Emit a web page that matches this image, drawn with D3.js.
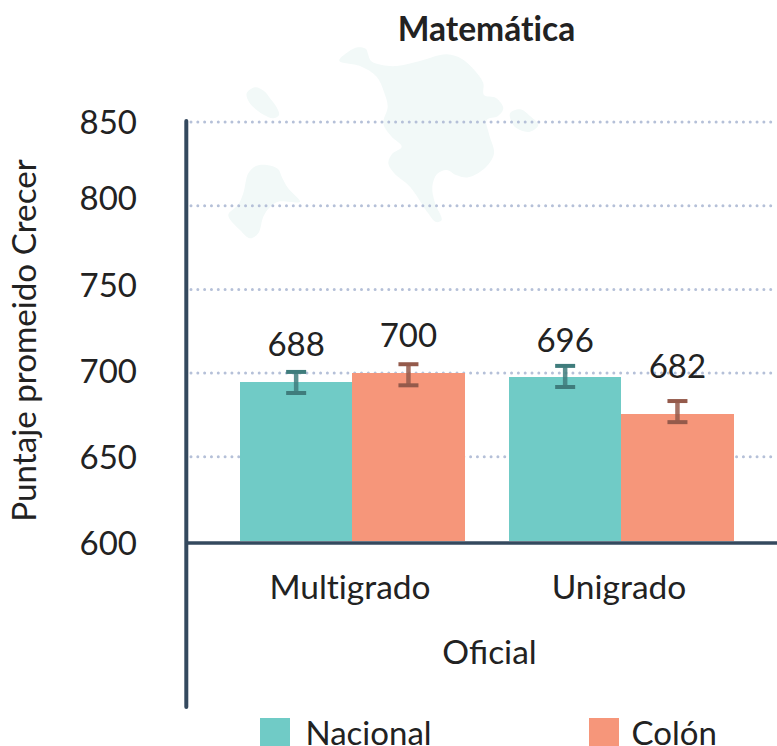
<!DOCTYPE html>
<html><head><meta charset="utf-8">
<script src="https://cdn.jsdelivr.net/npm/d3@7"></script>
<style>html,body{margin:0;padding:0;background:#fff;overflow:hidden}svg{display:block}text{font-family:Lato,sans-serif;fill:#222}</style>
</head><body><svg id="c" width="777" height="746"></svg>
<script>
const categories = ["Multigrado", "Unigrado"];
const seriesNames = ["Nacional", "Colón"];
const nacionalBar = [694.7, 697.7];
const colonBar = [700, 675.6];
const nacionalErrMid = [694.4, 698];
const colonErrMid = [699, 677];
const nacionalLabel = ["688", "696"];
const colonLabel = ["700", "682"];
const nacionalLabelAt = [710.4, 712.8];
const colonLabelAt = [715.8, 697.5];
const errHalf = 6.3;
const yTicks = [600, 650, 700, 750, 800, 850];
const colors = ["#70cbc6", "#f6967a"];
const errColors = ["#3f7c7c", "#945a4b"];

const svg = d3.select("#c");
const y = d3.scaleLinear().domain([600, 850]).range([540.5, 122]);
const yLabel = d3.scaleLinear().domain([600, 800, 850]).range([555.3, 210.3, 134.3]);
const x0 = d3.scaleOrdinal().domain(categories).range([240, 509]);
const x1 = d3.scaleBand().domain(seriesNames).range([0, 224.6]);

// decorative background shapes
const blobs = [
 [[339.3,60.7],[348,52],[358,47.3],[366,49],[368,54],[371,61],[382,65],[396.7,66],[420,61],[446.7,54.3],[462,59],[476,72],[483.3,83.3],[484,95],[496,98],[503.3,108.3],[498,116],[486.7,120],[489,134],[494,153.3],[486,167],[468.3,177.3],[456,175],[446.7,170],[437,174],[432.3,186.7],[435,203],[441.7,220],[436,222],[428,213],[410,186.7],[394,173],[388.3,163.3],[392,154],[401.7,146.7],[391,136],[383.3,123.3],[387.7,106.7],[384,92],[376.7,76.7],[360,66]],
 [[246.7,93.3],[255,87.3],[264,91],[270,98.3],[277,108],[279,115],[273.3,118.3],[264,115],[256.7,110],[249,102]],
 [[228.3,215],[238,205],[243.3,193.3],[248.3,173.3],[256,166],[266.7,165],[278,169],[281.7,176.7],[288,188],[300,201.7],[290,202],[278.3,201.7],[270,207],[263.3,216.7],[258.3,233.3],[250,238.3],[240,230]],
 [[510,113.3],[520,109.3],[530,116],[538.3,125],[530,131.7],[520,130],[513.3,125]]
];
const blobLine = d3.line().curve(d3.curveCatmullRomClosed.alpha(0.5));
svg.append("g").selectAll("path").data(blobs).join("path").attr("d", blobLine).attr("fill", "#f2f9f8");

// grid
svg.append("g").selectAll("line").data(yTicks.slice(1)).join("line")
  .attr("x1", 191).attr("x2", 777).attr("y1", d => y(d)).attr("y2", d => y(d))
  .attr("stroke", "#b5c0d8").attr("stroke-width", 3).attr("stroke-linecap", "round").attr("stroke-dasharray", "0 6.82");

// bars
const rows = categories.flatMap((c, i) => [
  {c, s: seriesNames[0], v: nacionalBar[i], m: nacionalErrMid[i], l: nacionalLabel[i], a: nacionalLabelAt[i], k: 0},
  {c, s: seriesNames[1], v: colonBar[i], m: colonErrMid[i], l: colonLabel[i], a: colonLabelAt[i], k: 1}
]);
const bx = d => x0(d.c) + x1(d.s);
svg.append("g").attr("shape-rendering", "crispEdges").selectAll("rect").data(rows).join("rect")
  .attr("x", bx).attr("width", x1.bandwidth()).attr("y", d => y(d.v)).attr("height", d => y(600) - y(d.v))
  .attr("fill", d => colors[d.k]);

// error bars
const eg = svg.append("g").selectAll("g").data(rows).join("g").attr("stroke", d => errColors[d.k]);
const cx = d => bx(d) + x1.bandwidth() / 2;
eg.append("line").attr("x1", cx).attr("x2", cx).attr("y1", d => y(d.m + errHalf)).attr("y2", d => y(d.m - errHalf)).attr("stroke-width", 4.5).attr("stroke-opacity", 0.85);
[1, -1].forEach(s => eg.append("line").attr("x1", d => cx(d) - 10).attr("x2", d => cx(d) + 10)
  .attr("y1", d => y(d.m + s * errHalf)).attr("y2", d => y(d.m + s * errHalf)).attr("stroke-width", 4));

// value labels
svg.append("g").selectAll("text").data(rows).join("text")
  .attr("x", cx).attr("y", d => y(d.a) + 0.5).attr("text-anchor", "middle").attr("font-size", 33).text(d => d.l);

// axis lines
const axisColor = "#34495e";
svg.append("line").attr("x1", 186.3).attr("x2", 186.3).attr("y1", 121).attr("y2", 707).attr("stroke", axisColor).attr("stroke-width", 4).attr("stroke-linecap", "round");
svg.append("line").attr("x1", 186).attr("x2", 777).attr("y1", 543).attr("y2", 543).attr("stroke", axisColor).attr("stroke-width", 3.5);

// tick labels
svg.append("g").selectAll("text").data(yTicks).join("text")
  .attr("x", 137).attr("y", d => yLabel(d)).attr("text-anchor", "end").attr("font-size", 33).text(d => d);

// category labels
svg.append("g").selectAll("text").data(categories).join("text")
  .attr("x", c => x0(c) + 110).attr("y", 599.3).attr("text-anchor", "middle").attr("font-size", 33.5)
  .style("font-variant-ligatures", "none").text(c => c);
svg.append("text").attr("x", 489.5).attr("y", 664.3).attr("text-anchor", "middle").attr("font-size", 33.5).text("Oficial");
svg.append("text").attr("x", 486.5).attr("y", 41).attr("text-anchor", "middle").attr("font-size", 33.6).attr("font-weight", 700)
  .style("font-variant-ligatures", "none").text("Matemática");
svg.append("text").attr("transform", "translate(35.5,340.5) rotate(-90)").attr("text-anchor", "middle").attr("font-size", 33.2)
  .style("font-variant-ligatures", "none").text("Puntaje promeido Crecer");

// legend
const lg = svg.append("g").selectAll("g").data(seriesNames).join("g");
const lx = [260, 589];
lg.append("rect").attr("x", (d, i) => lx[i]).attr("y", 718).attr("width", 30).attr("height", 28).attr("fill", (d, i) => colors[i]);
lg.append("text").attr("x", (d, i) => lx[i] + (i ? 42.5 : 45.5)).attr("y", 745).attr("font-size", 33).text(d => d);
</script></body></html>
